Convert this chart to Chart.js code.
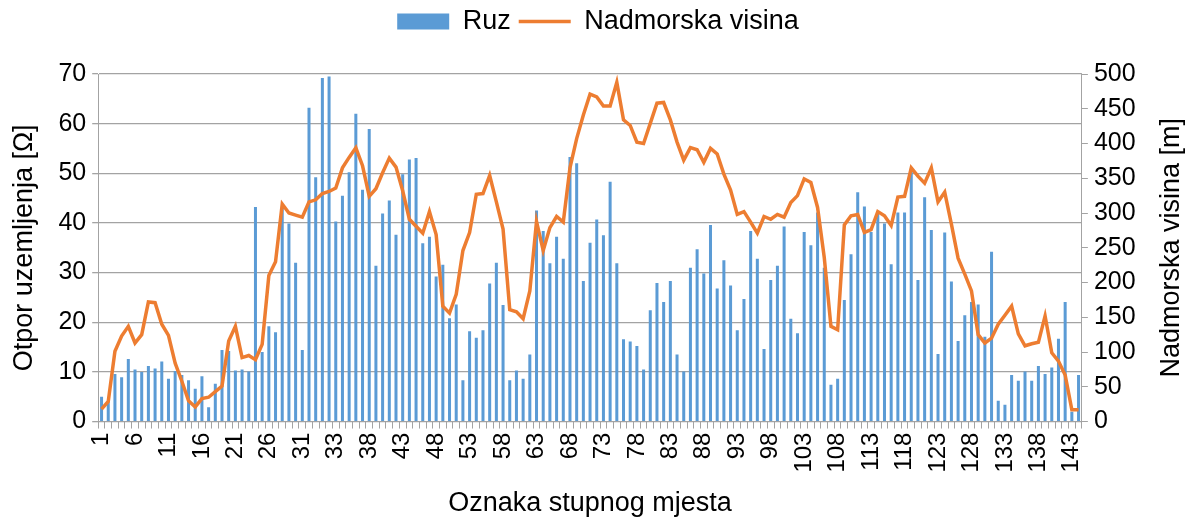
<!DOCTYPE html>
<html>
<head>
<meta charset="utf-8">
<script src="https://cdn.jsdelivr.net/npm/chart.js@4/dist/chart.umd.min.js"></script>
<style>
  html, body { margin: 0; padding: 0; background: #fff; }
  #wrap { width: 1190px; height: 521px; }
</style>
</head>
<body>
<div id="wrap"><canvas id="c" width="1190" height="521"></canvas></div>
<script>
// Tower position labels (stupna mjesta)
const positions = [
  '1','2','3','4','5','6','7','8','9','10','11','12','13','14','15','16','17','18','19','20',
  '21','22','23','24','25','26','27','28','29','30','31','32','32a','32b','32c',
  '33','34','35','36','37','38','39','40','41','42','43','44','45','46','47','48','49','50',
  '51','52','53','54','55','56','57','58','59','60','61','62','63','64','65','66','67','68','69','70',
  '71','72','73','74','75','76','77','78','79','80','81','82','83','84','85','86','87','88','89','90',
  '91','92','93','94','95','96','97','98','99','100','101','102','103','104','105','106','107','108','109','110',
  '111','112','113','114','115','116','117','118','119','120','121','122','123','124','125','126','127','128','129','130',
  '131','132','133','134','135','136','137','138','139','140','141','142','143','144'
];

// Earthing resistance per tower [Ω]
const resistance = [
  5.0, 4.0, 9.6, 8.9, 12.6, 10.5, 10.0, 11.2, 10.7, 12.1,
  8.6, 10.2, 9.4, 8.3, 6.6, 9.1, 2.9, 7.6, 14.4, 14.2,
  10.3, 10.5, 10.1, 43.2, 14.0, 19.2, 18.0, 43.0, 39.9, 32.0,
  14.4, 63.2, 49.2, 69.2, 69.5, 40.3, 45.5, 50.2, 62.0, 46.7,
  58.9, 31.4, 41.9, 44.5, 37.6, 49.8, 52.8, 53.1, 35.9, 37.2,
  29.2, 31.6, 20.8, 23.6, 8.3, 18.2, 16.9, 18.4, 27.8, 32.0,
  23.5, 8.3, 10.3, 8.6, 13.5, 42.5, 38.4, 31.9, 37.2, 32.8,
  53.3, 52.0, 28.3, 36.0, 40.7, 37.5, 48.3, 31.9, 16.6, 16.1,
  15.2, 10.5, 22.4, 27.9, 24.1, 28.3, 13.5, 10.1, 31.0, 34.7,
  29.8, 39.6, 26.8, 32.5, 27.4, 18.4, 24.7, 38.4, 32.8, 14.6,
  28.5, 31.4, 39.3, 20.7, 17.8, 38.2, 35.5, 42.1, 31.0, 7.4,
  8.6, 24.5, 33.7, 46.2, 43.3, 38.2, 41.8, 39.9, 31.7, 42.1,
  42.1, 50.9, 28.5, 45.2, 38.6, 13.6, 38.1, 28.2, 16.2, 21.4,
  24.1, 23.6, 17.1, 34.2, 4.2, 3.4, 9.4, 8.2, 10.1, 8.2,
  11.2, 9.6, 10.9, 16.7, 24.1, 2.0, 9.4
];

// Altitude per tower [m]
const altitude = [
  18, 29, 101, 123, 137, 113, 125, 172, 171, 140,
  124, 84, 58, 30, 21, 33, 35, 43, 51, 116,
  137, 92, 95, 89, 111, 210, 230, 313, 300, 297,
  294, 316, 319, 328, 331, 336, 365, 380, 394, 368,
  324, 335, 358, 379, 366, 332, 291, 281, 271, 302,
  269, 166, 156, 183, 246, 272, 327, 328, 354, 316,
  277, 161, 158, 148, 188, 288, 246, 279, 295, 287,
  365, 407, 441, 471, 467, 454, 454, 488, 434, 426,
  402, 400, 429, 458, 459, 434, 402, 376, 394, 391,
  373, 393, 385, 356, 333, 298, 302, 287, 271, 295,
  291, 298, 294, 315, 325, 349, 344, 308, 236, 137,
  132, 283, 296, 298, 272, 276, 302, 296, 282, 323,
  324, 365, 353, 343, 365, 316, 330, 284, 235, 212,
  188, 125, 113, 120, 140, 153, 166, 126, 109, 112,
  114, 152, 99, 87, 67, 17, 17
];

const BLUE = '#5B9BD5';
const ORANGE = '#ED7D31';
const GRID = '#a3a3a3';
const FONT = '"Liberation Sans", Arial, sans-serif';
const TITLE_SIZE = 27;
const RIGHT_TITLE = 'Nadmorska visina [m]';

// Extra space below the legend
const legendSpacer = {
  id: 'legendSpacer',
  beforeInit(chart) {
    const fit = chart.legend.fit;
    chart.legend.fit = function () {
      fit.call(this);
      this.height += 29;
    };
  }
};

// Secondary axis title, written bottom-to-top like the primary one
const rightTitle = {
  id: 'rightTitle',
  afterDraw(chart) {
    const s = chart.scales.y1;
    const lh = TITLE_SIZE * 1.2;
    const area = chart.chartArea;
    const ctx = chart.ctx;
    ctx.save();
    ctx.translate(s.right - lh / 2, (area.top + area.bottom) / 2);
    ctx.rotate(-Math.PI / 2);
    ctx.font = TITLE_SIZE + 'px ' + FONT;
    ctx.fillStyle = '#000';
    ctx.textAlign = 'center';
    ctx.textBaseline = 'middle';
    ctx.fillText(RIGHT_TITLE, 0, 0);
    ctx.restore();
  }
};

new Chart(document.getElementById('c'), {
  type: 'bar',
  data: {
    labels: positions,
    datasets: [
      {
        label: 'Ruz',
        data: resistance,
        backgroundColor: BLUE,
        borderWidth: 0,
        yAxisID: 'y',
        order: 1,
        barPercentage: 0.45,
        categoryPercentage: 1.0,
        pointStyle: 'rect'
      },
      {
        type: 'line',
        label: 'Nadmorska visina',
        data: altitude,
        borderColor: ORANGE,
        backgroundColor: ORANGE,
        borderWidth: 3.5,
        pointRadius: 0,
        tension: 0,
        yAxisID: 'y1',
        order: 0,
        pointStyle: 'line'
      }
    ]
  },
  plugins: [legendSpacer, rightTitle],
  options: {
    responsive: false,
    animation: false,
    devicePixelRatio: 1,
    layout: { padding: { left: 8, right: 2, top: 0, bottom: 1 } },
    plugins: {
      tooltip: { enabled: false },
      legend: {
        position: 'top',
        labels: {
          usePointStyle: true,
          pointStyleWidth: 52,
          boxHeight: 16,
          padding: 8,
          color: '#000',
          font: { family: FONT, size: 27 },
          sort: (a, b) => a.datasetIndex - b.datasetIndex
        }
      }
    },
    scales: {
      x: {
        offset: true,
        grid: { offset: true, drawOnChartArea: false, color: GRID, tickLength: 7 },
        border: { color: GRID },
        ticks: {
          autoSkip: false,
          maxRotation: 90,
          minRotation: 90,
          color: '#000',
          padding: 4,
          font: { family: FONT, size: 24 },
          callback: function (val, idx) { return idx % 5 === 0 ? this.getLabelForValue(val) : ''; }
        },
        title: { display: true, text: 'Oznaka stupnog mjesta', color: '#000', font: { family: FONT, size: TITLE_SIZE }, padding: { top: 11, bottom: 0 } }
      },
      y: {
        position: 'left',
        min: 0, max: 70,
        ticks: { stepSize: 10, color: '#000', font: { family: FONT, size: 25 }, padding: 6 },
        grid: { color: GRID, lineWidth: 1.3, tickLength: 6 },
        border: { color: GRID },
        title: { display: true, text: 'Otpor uzemljenja [Ω]', color: '#000', font: { family: FONT, size: TITLE_SIZE }, padding: { top: 0, bottom: 12 } }
      },
      y1: {
        position: 'right',
        min: 0, max: 500,
        ticks: { stepSize: 50, color: '#000', font: { family: FONT, size: 25 }, padding: 6 },
        grid: { drawOnChartArea: false, color: GRID, tickLength: 6 },
        border: { color: GRID },
        // space is reserved here; the text itself is painted by the rightTitle plugin
        title: { display: true, text: RIGHT_TITLE, color: 'rgba(0,0,0,0)', font: { family: FONT, size: TITLE_SIZE }, padding: { top: 0, bottom: 14 } }
      }
    }
  }
});
</script>
</body>
</html>
